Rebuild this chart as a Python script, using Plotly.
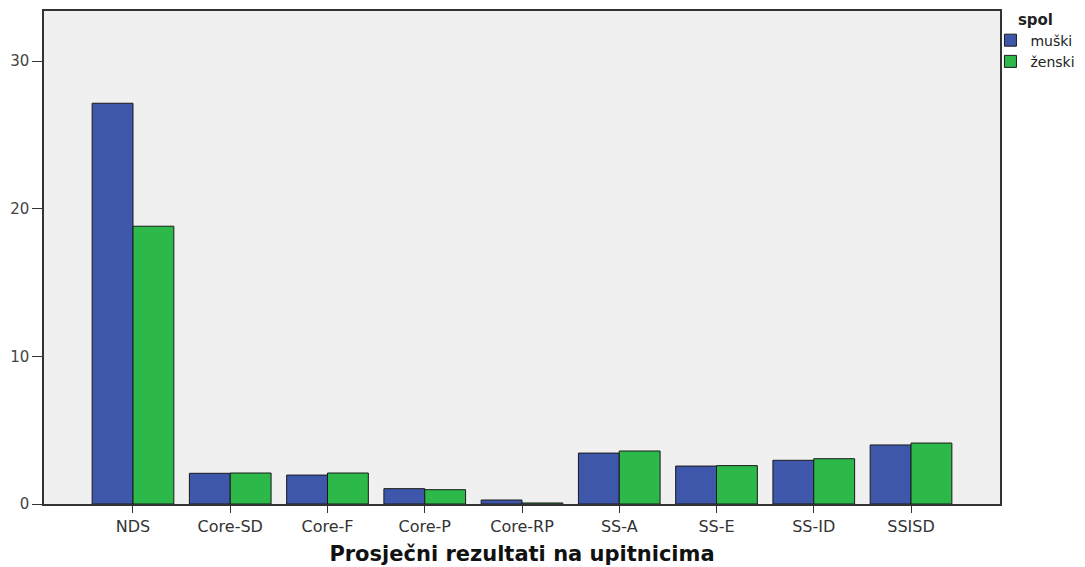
import plotly.graph_objects as go

categories = ["NDS", "Core-SD", "Core-F", "Core-P", "Core-RP", "SS-A", "SS-E", "SS-ID", "SSISD"]
muski = [27.15, 2.08, 1.96, 1.04, 0.27, 3.45, 2.57, 2.96, 4.0]
zenski = [18.82, 2.1, 2.1, 0.97, 0.07, 3.59, 2.6, 3.07, 4.13]
series_names = ["muški", "ženski"]
y_ticks = [0, 10, 20, 30]

fig = go.Figure()
fig.add_trace(go.Bar(x=categories, y=muski, name=series_names[0],
                     marker=dict(color="#3E57AB", line=dict(color="#1a1a1a", width=1))))
fig.add_trace(go.Bar(x=categories, y=zenski, name=series_names[1],
                     marker=dict(color="#2DB84A", line=dict(color="#1a1a1a", width=1))))

# page has an 8px body margin; figure sized/margined to compensate
fig.update_layout(
    width=1077, height=559,
    margin=dict(l=36, r=85, t=3, b=63, autoexpand=False),
    paper_bgcolor="white", plot_bgcolor="#F0F0F0",
    barmode="group", bargap=0.16, bargroupgap=0,
    font=dict(family="DejaVu Sans", size=15, color="#333333"),
    showlegend=True,
    legend=dict(x=0.99, y=1.012, xanchor="left", yanchor="top",
                title=dict(text="<b>spol</b>", side="top center",
                           font=dict(family="DejaVu Sans", size=15, color="#222")),
                font=dict(family="DejaVu Sans", size=14, color="#222"),
                bgcolor="rgba(0,0,0,0)", tracegroupgap=0, itemwidth=30),
    xaxis=dict(range=[-0.915, 8.915], showline=True, linecolor="#333", linewidth=1.5,
               mirror=True, ticks="outside", ticklen=7, tickcolor="#333",
               showgrid=False, tickfont=dict(size=16),
               title=dict(text="<b>Prosječni rezultati na upitnicima</b>",
                          font=dict(family="DejaVu Sans", size=21, color="#111"), standoff=11)),
    yaxis=dict(range=[0, 33.4], tickvals=y_ticks, showline=True, linecolor="#333", linewidth=1.5,
               mirror=True, ticks="outside", ticklen=10, tickcolor="#333", showgrid=False,
               zeroline=False, tickfont=dict(size=15, color="#444")),
)

fig.write_html("out.html")
